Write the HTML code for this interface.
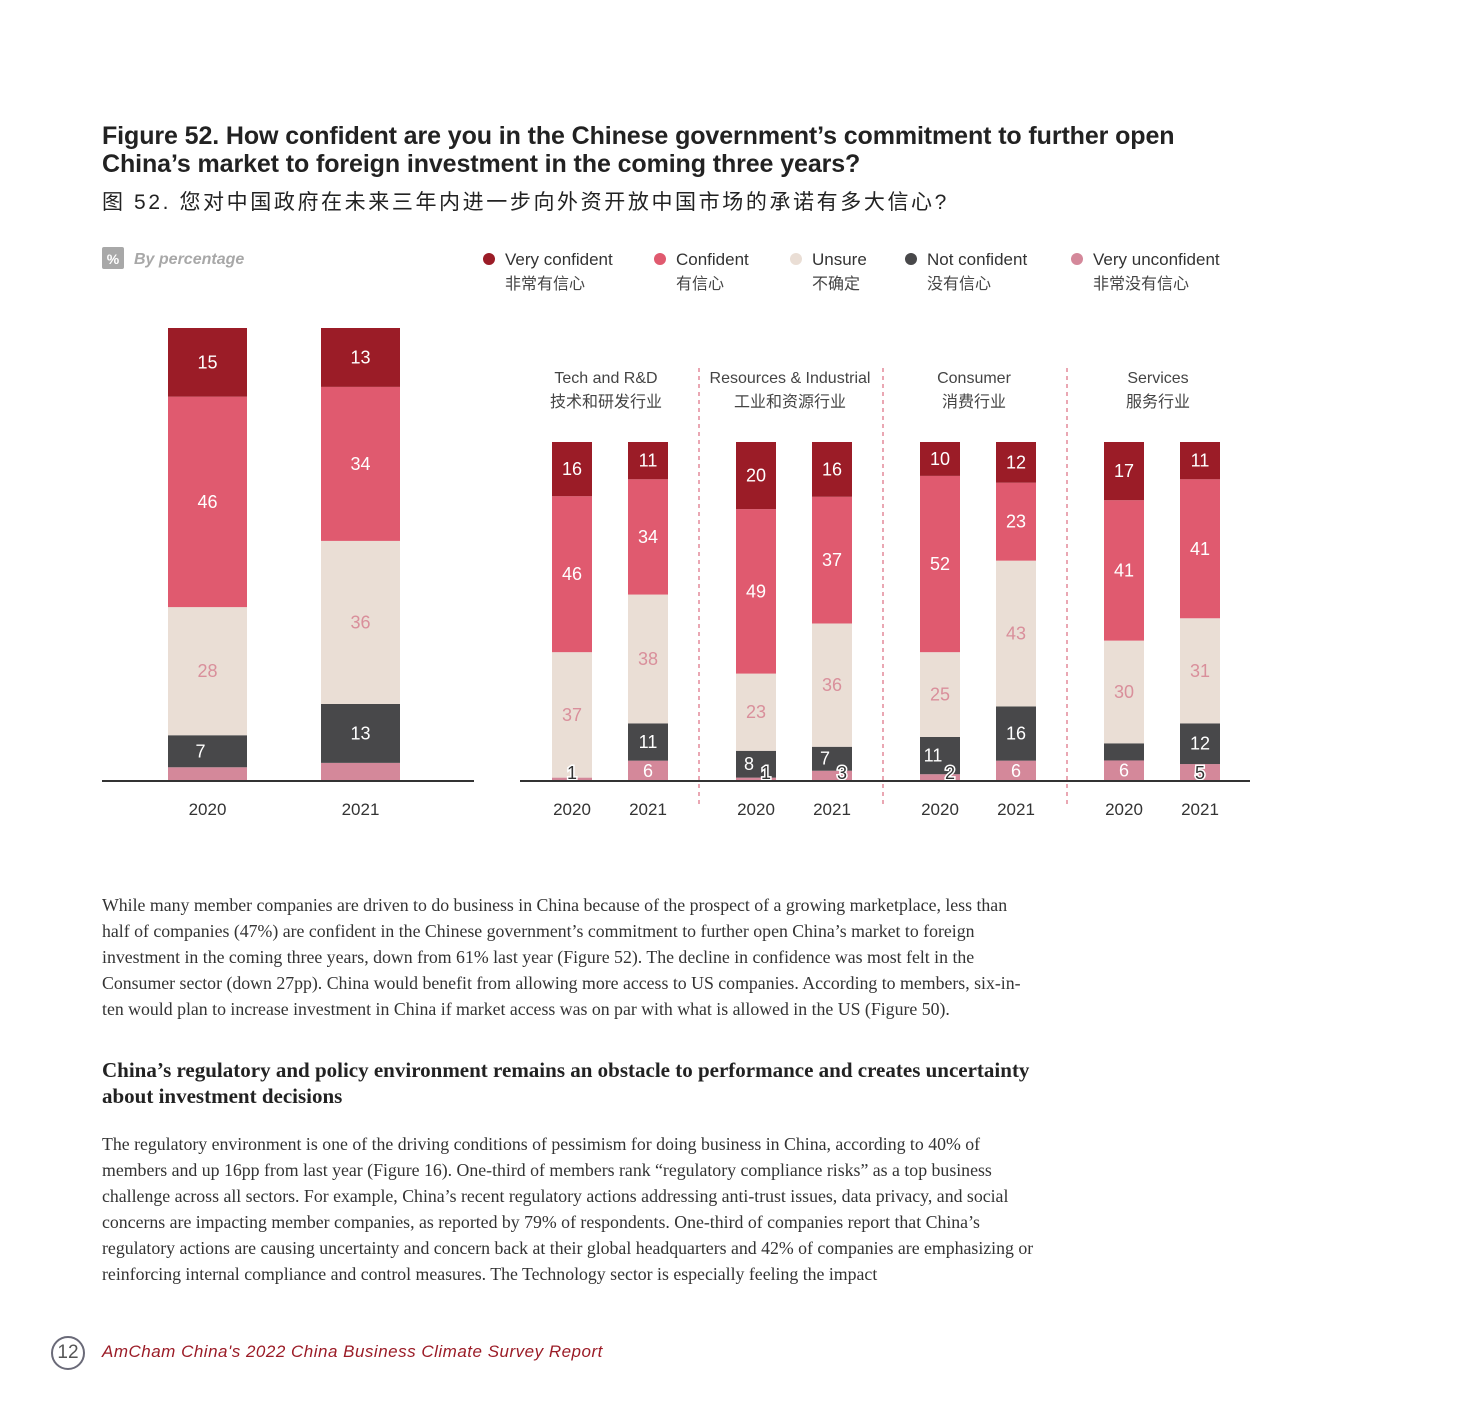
<!DOCTYPE html>
<html><head><meta charset="utf-8">
<style>
body{margin:0;width:1474px;height:1417px;background:#fff;position:relative;overflow:hidden;font-family:"Liberation Sans","Noto Sans CJK SC",sans-serif;}
.abs{position:absolute;}
.title{left:102px;top:122px;font-size:25px;font-weight:bold;color:#222;line-height:28px;letter-spacing:-0.1px;}
.ctitle{left:102px;top:186px;font-size:21px;color:#222;font-family:"Liberation Sans","Noto Sans CJK SC",sans-serif;letter-spacing:2.6px;}
.body{left:102px;width:934px;font-family:"Liberation Serif","Noto Serif CJK SC",serif;font-size:17.8px;line-height:26px;color:#333;}
.h2{left:102px;top:1057px;width:960px;font-family:"Liberation Serif",serif;font-weight:bold;font-size:21px;line-height:26px;color:#222;}
svg text{font-family:"Liberation Sans","Noto Sans CJK SC",sans-serif;}
</style></head><body>
<div class="abs title">Figure 52. How confident are you in the Chinese government’s commitment to further open<br>China’s market to foreign investment in the coming three years?</div>
<div class="abs ctitle">图 52. 您对中国政府在未来三年内进一步向外资开放中国市场的承诺有多大信心?</div>

<svg class="abs" style="left:0;top:0" width="1474" height="840" id="chart">
<g>
<rect x="102" y="247" width="22" height="22" rx="2" fill="#a8a8a8"/>
<text x="113" y="264" font-size="14" fill="#fff" text-anchor="middle" font-weight="bold">%</text>
<text x="134" y="264" font-size="16" fill="#a8a8a8" font-style="italic" font-weight="bold">By percentage</text>
</g>
<g id="legend"></g>
<g id="marks"></g>
</svg>

<div class="abs body" style="top:892px">While many member companies are driven to do business in China because of the prospect of a growing marketplace, less than half of companies (47%) are confident in the Chinese government’s commitment to further open China’s market to foreign investment in the coming three years, down from 61% last year (Figure 52). The decline in confidence was most felt in the Consumer sector (down 27pp). China would benefit from allowing more access to US companies. According to members, six-in-ten would plan to increase investment in China if market access was on par with what is allowed in the US (Figure 50).</div>
<div class="abs h2">China’s regulatory and policy environment remains an obstacle to performance and creates uncertainty about investment decisions</div>
<div class="abs body" style="top:1131px;width:936px">The regulatory environment is one of the driving conditions of pessimism for doing business in China, according to 40% of members and up 16pp from last year (Figure 16). One-third of members rank “regulatory compliance risks” as a top business challenge across all sectors. For example, China’s recent regulatory actions addressing anti-trust issues, data privacy, and social concerns are impacting member companies, as reported by 79% of respondents. One-third of companies report that China’s regulatory actions are causing uncertainty and concern back at their global headquarters and 42% of companies are emphasizing or reinforcing internal compliance and control measures. The Technology sector is especially feeling the impact</div>

<div class="abs" style="left:51px;top:1336px;width:30px;height:30px;border:2px solid #6a6a78;border-radius:50%;text-align:center;line-height:30px;font-size:19px;color:#555">12</div>
<div class="abs" style="left:102px;top:1342px;font-size:17px;font-style:italic;color:#9b1c27;letter-spacing:0.5px">AmCham China's 2022 China Business Climate Survey Report</div>

<script>
const seriesNames=["Very confident","Confident","Unsure","Not confident","Very unconfident"];
const seriesCN=["非常有信心","有信心","不确定","没有信心","非常没有信心"];
const colors=["#9b1c27","#e05a6f","#eaded5","#48484a","#d4889a"];
const overallYears=["2020","2021"];
const overallVeryConf=[15,13];
const overallConf=[46,34];
const overallUnsure=[28,36];
const overallNotConf=[7,13];
const overallVeryUnconf=[3,4];
const sectors=["Tech and R&D","Resources & Industrial","Consumer","Services"];
const sectorsCN=["技术和研发行业","工业和资源行业","消费行业","服务行业"];
const sectorVeryConf=[16,11,20,16,10,12,17,11];
const sectorConf=[46,34,49,37,52,23,41,41];
const sectorUnsure=[37,38,23,36,25,43,30,31];
const sectorNotConf=[0,11,8,7,11,16,5,12];
const sectorVeryUnconf=[1,6,1,3,2,6,6,5];
const hiddenLabels=["o-0-4","o-1-4","s-6-3"];

const NS="http://www.w3.org/2000/svg";
const marks=document.getElementById('marks');
const legend=document.getElementById('legend');
function mk(tag,attrs,parent){const e=document.createElementNS(NS,tag);for(const k in attrs)e.setAttribute(k,attrs[k]);parent.appendChild(e);return e;}

const lx=[489,660,796,911,1077];
seriesNames.forEach((n,i)=>{
  const g=mk('g',{},legend);
  
  
  mk('circle',{cx:lx[i],cy:259,r:6,fill:colors[i]},g);
  const t=mk('text',{x:lx[i]+16,y:265,'font-size':17,fill:'#333'},g);t.textContent=n;
  const t2=mk('text',{x:lx[i]+16,y:289,'font-size':16,fill:'#444'},g);t2.textContent=seriesCN[i];
});

const base=781;
function drawBar(x,w,vals,totalH,key){
  const g=mk('g',{},marks);
  
  
  const sum=vals.reduce((a,b)=>a+b,0);
  const scale=totalH/sum;
  let y=base;
  const order=[4,3,2,1,0];
  const segs=[];
  order.forEach(si=>{
    const v=vals[si];const h=v*scale;y-=h;
    const r=mk('rect',{x:x,y:y,width:w,height:h,fill:colors[si]},g);
    
    
    segs.push({si,v,y,h});
  });
  segs.forEach(s=>{
    if(s.v<=0)return;
    if(hiddenLabels.includes(key+'-'+s.si))return;
    let cx=x+w/2,cy=s.y+s.h/2+6,fill='#fff',stroke=null;
    if(s.si===2)fill='#d98f9b';
    if(s.h<18){
      fill='#333';stroke='#fff';cy=base-2;
      const above=segs.find(q=>q.si===s.si-1);
      if(above&&above.v>0&&above.h<40){cx=x+w/2+10;}
    }
    if(s.si===3){const below=segs.find(q=>q.si===4);if(below.h<18&&s.h<40)cx=x+w/2-7;}
    const t=mk('text',{x:cx,y:cy,'font-size':18,fill:fill,'text-anchor':'middle'},g);
    if(stroke){t.setAttribute('stroke',stroke);t.setAttribute('stroke-width','3');t.setAttribute('paint-order','stroke');}
    t.textContent=s.v;
  });
}

const lxs=[168,321];
overallYears.forEach((yr,i)=>{
  drawBar(lxs[i],79,[overallVeryConf[i],overallConf[i],overallUnsure[i],overallNotConf[i],overallVeryUnconf[i]],453,'o-'+i);
  const t=mk('text',{x:lxs[i]+39.5,y:815,'font-size':17,fill:'#333','text-anchor':'middle'},marks);t.textContent=yr;
});
mk('line',{x1:102,x2:474,y1:base,y2:base,stroke:'#333','stroke-width':2},marks);

sectors.forEach((s,gi)=>{
  const gx=552+gi*184;
  for(let k=0;k<2;k++){
    const i=gi*2+k;const x=gx+k*76;
    drawBar(x,40,[sectorVeryConf[i],sectorConf[i],sectorUnsure[i],sectorNotConf[i],sectorVeryUnconf[i]],339,'s-'+i);
    const t=mk('text',{x:x+20,y:815,'font-size':17,fill:'#333','text-anchor':'middle'},marks);t.textContent=overallYears[k];
  }
  const cx=gx+58;
  const t1=mk('text',{x:cx-4,y:383,'font-size':16,fill:'#444','text-anchor':'middle'},marks);t1.textContent=s;
  
  const t2=mk('text',{x:cx-4,y:407,'font-size':16,fill:'#444','text-anchor':'middle'},marks);t2.textContent=sectorsCN[gi];
  if(gi>0){mk('line',{x1:gx-37,x2:gx-37,y1:368,y2:805,stroke:'#e38a9a','stroke-width':1.5,'stroke-dasharray':'4 4'},marks);}
});
mk('line',{x1:520,x2:1250,y1:base,y2:base,stroke:'#333','stroke-width':2},marks);
</script>
</body></html>
